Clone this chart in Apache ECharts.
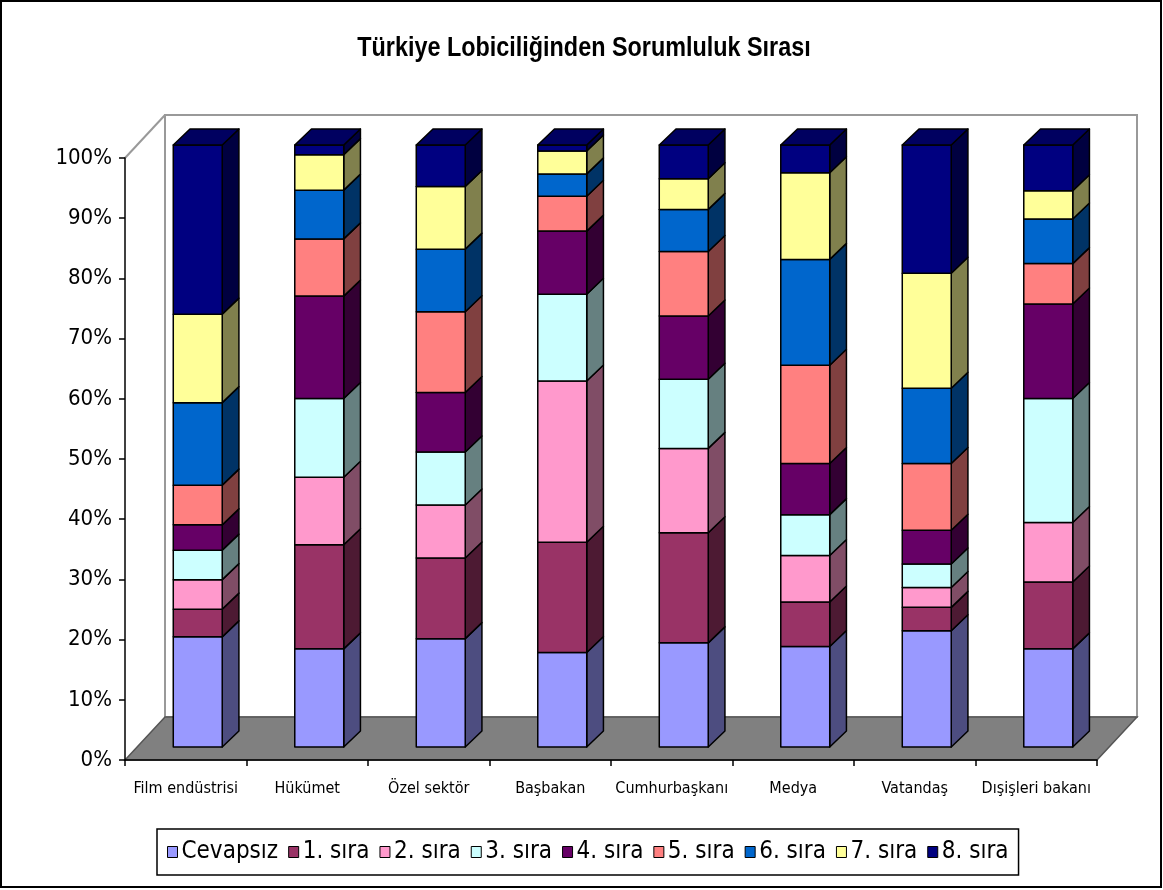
<!DOCTYPE html>
<html><head><meta charset="utf-8">
<script src="https://cdn.jsdelivr.net/npm/echarts@6/dist/echarts.min.js"></script>
<style>html,body{margin:0;padding:0;background:#fff}#c{width:1163px;height:890px}</style>
</head><body><div id="c"></div>
<script>
// ---- data ----
const titleText = 'Türkiye Lobiciliğinden Sorumluluk Sırası';
const categories = ['Film endüstrisi','Hükümet','Özel sektör','Başbakan','Cumhurbaşkanı','Medya','Vatandaş','Dışişleri bakanı'];
const seriesNames = ['Cevapsız','1. sıra','2. sıra','3. sıra','4. sıra','5. sıra','6. sıra','7. sıra','8. sıra'];
const cevapsiz = [18.3,16.3,18.0,15.7,17.3,16.7,19.3,16.3];
const sira1 = [4.6,17.3,13.4,18.3,18.3,7.4,3.9,11.1];
const sira2 = [4.9,11.2,8.8,26.8,14.0,7.7,3.3,9.9];
const sira3 = [4.9,13.1,8.8,14.4,11.5,6.8,3.9,20.6];
const sira4 = [4.2,17.0,9.9,10.5,10.5,8.5,5.6,15.7];
const sira5 = [6.6,9.5,13.4,5.8,10.7,16.3,11.1,6.7];
const sira6 = [13.7,8.1,10.4,3.7,7.0,17.6,12.5,7.4];
const sira7 = [14.7,5.9,10.4,3.8,5.1,14.4,19.1,4.7];
const sira8 = [28.1,1.6,6.9,1.0,5.6,4.6,21.3,7.6];
const yTickLabels = ['0%','10%','20%','30%','40%','50%','60%','70%','80%','90%','100%'];

// ---- style ----
const values = [cevapsiz,sira1,sira2,sira3,sira4,sira5,sira6,sira7,sira8];
const colors = ['#9999FF','#993366','#FF99CC','#CCFFFF','#660066','#FF8080','#0066CC','#FFFF99','#000080'];
const NARROW = "'Liberation Sans Narrow','Arial Narrow','DejaVu Sans Condensed',sans-serif";
const G = {left:125, right:66, top:158, bottom:130};
const W = 1163, H = 890;
const DEPTH = [40, -43];      // floor depth vector
const BAR_D = [16.7, -16];    // bar depth vector
const OFF = [12, -13];        // bar front-face offset inside floor depth
const BAR_RATIO = 0.403;

function shade(hex, f){
  const n = parseInt(hex.slice(1),16);
  const r = Math.round(((n>>16)&255)*f), g = Math.round(((n>>8)&255)*f), b = Math.round((n&255)*f);
  return 'rgb('+r+','+g+','+b+')';
}

// 100% stacking
const totals = categories.map((c,i)=>values.reduce((s,arr)=>s+arr[i],0));
const cum = categories.map(()=>0);
const seriesData = values.map(arr=>arr.map((v,i)=>{
  const p = v/totals[i]*100;
  const lo = cum[i]; cum[i] += p;
  return [i, lo, cum[i]];
}));

function renderItem(params, api){
  const s = params.seriesIndex;
  const i = api.value(0), lo = api.value(1), hi = api.value(2);
  const a = api.coord([i, lo]), b = api.coord([i, hi]);
  const band = api.size([1,0])[0];
  const w = band*BAR_RATIO;
  const x = a[0] + OFF[0] - w/2;
  const y0 = a[1] + OFF[1], y1 = b[1] + OFF[1];
  const col = colors[s];
  const st = {stroke:'#000', lineWidth:1.5, lineJoin:'round'};
  const children = [
    {type:'polygon', shape:{points:[[x+w,y1],[x+w+BAR_D[0],y1+BAR_D[1]],[x+w+BAR_D[0],y0+BAR_D[1]],[x+w,y0]]},
      style:Object.assign({fill:shade(col,0.5)}, st)},
    {type:'rect', shape:{x:x, y:y1, width:w, height:y0-y1}, style:Object.assign({fill:col}, st)}
  ];
  if (s === values.length-1){
    children.push({type:'polygon', shape:{points:[[x,y1],[x+BAR_D[0],y1+BAR_D[1]],[x+w+BAR_D[0],y1+BAR_D[1]],[x+w,y1]]},
      style:Object.assign({fill:shade(col,0.75)}, st)});
  }
  return {type:'group', children};
}

const x0 = G.left, x1 = W - G.right, yb = H - G.bottom, yt = G.top;
const chart = echarts.init(document.getElementById('c'), null, {renderer:'canvas'});
chart.setOption({
  animation:false,
  backgroundColor:'#fff',
  legend:{data:seriesNames, left:157, top:829, orient:'horizontal', icon:'rect', itemWidth:10, itemHeight:11, itemGap:10,
    padding:[11,10,11,10], borderColor:'#000', borderWidth:1.5,
    itemStyle:{borderColor:'#000', borderWidth:1},
    textStyle:{fontFamily:NARROW, fontSize:24, color:'#000', padding:[0,0,0,-1]}},
  grid:{left:G.left, right:G.right, top:G.top, bottom:G.bottom, containLabel:false},
  xAxis:{type:'category', data:categories, boundaryGap:true,
    axisLine:{lineStyle:{color:'#000', width:1.5}},
    axisTick:{show:true, length:6, lineStyle:{color:'#000', width:1.5}},
    axisLabel:{fontFamily:NARROW, fontSize:16, color:'#000', margin:21, interval:0}},
  yAxis:{type:'value', min:0, max:100, interval:10,
    axisLine:{show:true, lineStyle:{color:'#000', width:1.5}},
    axisTick:{show:true, length:6, inside:false, lineStyle:{color:'#000', width:1.5}},
    splitLine:{show:false},
    axisLabel:{fontFamily:NARROW, fontSize:22, color:'#000', margin:13,
      formatter:(v)=>yTickLabels[Math.round(v/10)]}},
  graphic:[
    {type:'rect', z:-10, shape:{x:1, y:1, width:W-3, height:H-4}, style:{fill:'#fff', stroke:'#000', lineWidth:2}},
    {type:'polygon', z:-5, shape:{points:[[x0+DEPTH[0],yt+DEPTH[1]],[x1+DEPTH[0],yt+DEPTH[1]],[x1+DEPTH[0],yb+DEPTH[1]],[x0+DEPTH[0],yb+DEPTH[1]]]},
      style:{fill:'#fff', stroke:'#999', lineWidth:2}},
    {type:'polyline', z:-5, shape:{points:[[x0,yt],[x0+DEPTH[0],yt+DEPTH[1]]]}, style:{stroke:'#999', lineWidth:2, fill:null}},
    {type:'polygon', z:-4, shape:{points:[[x0,yb],[x0+DEPTH[0],yb+DEPTH[1]],[x1+DEPTH[0],yb+DEPTH[1]],[x1,yb]]},
      style:{fill:'#808080', stroke:'#555', lineWidth:1.5}},
    {type:'text', z:10, x:584, y:48, scaleX:0.835, scaleY:1,
      style:{text:titleText, font:"bold 28px 'Liberation Sans', Arial, sans-serif", fill:'#000', align:'center', verticalAlign:'middle'}}
  ],
  series: seriesNames.map((n,s)=>({
    type:'custom', name:n, renderItem, data:seriesData[s],
    encode:{x:0, y:[1,2]}, itemStyle:{color:colors[s]}, z:5
  }))
});
</script></body></html>
